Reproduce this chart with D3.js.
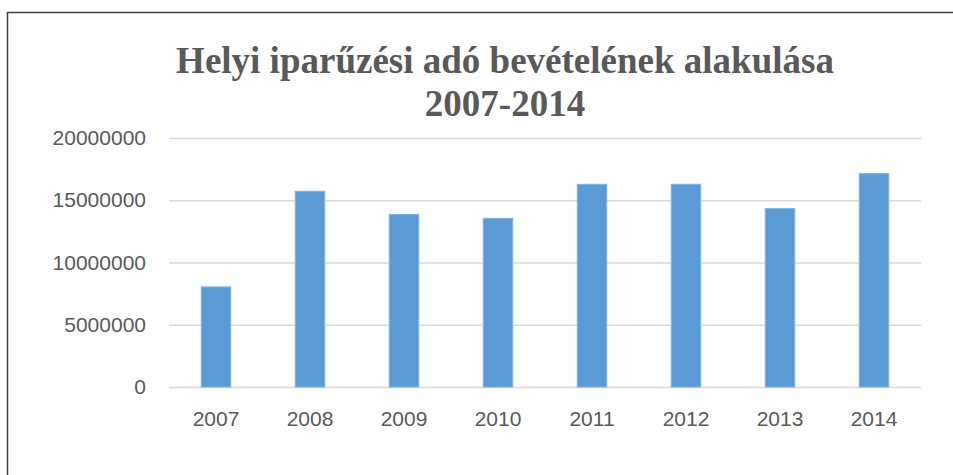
<!DOCTYPE html>
<html lang="hu">
<head>
  <meta charset="UTF-8">
  <title>Helyi iparűzési adó bevételének alakulása</title>
  <script src="https://d3js.org/d3.v7.min.js"></script>
  <style>
    body { margin: 0; padding: 0; background: #fff; }
    svg { display: block; }
    .tick text { font-family: "Liberation Sans", Arial, sans-serif; font-size: 21px; fill: #595959; }
    .title { font-family: "Liberation Serif", "Times New Roman", serif; font-weight: bold; font-size: 37px; fill: #595959; }
  </style>
</head>
<body>
  <svg id="chart" width="953" height="475"></svg>

  <script>
    const years = ["2007", "2008", "2009", "2010", "2011", "2012", "2013", "2014"];
    const revenue = [8040000, 15720000, 13850000, 13550000, 16280000, 16280000, 14330000, 17140000];
    const yTicks = [0, 5000000, 10000000, 15000000, 20000000];
    const titleLines = ["Helyi iparűzési adó bevételének alakulása", "2007-2014"];

    const data = years.map((y, i) => ({ year: y, value: revenue[i] }));

    const svg = d3.select("#chart");

    // chart frame (right and bottom edges fall outside the picture)
    svg.append("rect")
      .attr("x", 7.5).attr("y", 12.5)
      .attr("width", 960).attr("height", 480)
      .attr("fill", "none")
      .attr("stroke", "#404040")
      .attr("stroke-width", 1.5);

    svg.selectAll("text.title")
      .data(titleLines)
      .enter()
      .append("text")
      .attr("class", "title")
      .attr("x", 505)
      .attr("y", (d, i) => 73 + i * 43)
      .attr("text-anchor", "middle")
      .text(d => d);

    const plotLeft = 169, plotRight = 921, plotTop = 138, plotBottom = 387;

    const x = d3.scaleBand()
      .domain(years)
      .range([plotLeft, plotRight])
      .paddingInner(0.686)
      .paddingOuter(0.343);

    const y = d3.scaleLinear()
      .domain([0, 20000000])
      .range([plotBottom, plotTop]);

    // gridlines + y labels
    const yAxis = svg.append("g")
      .attr("transform", `translate(${plotLeft},0)`)
      .call(d3.axisLeft(y).tickValues(yTicks).tickFormat(d3.format("d"))
        .tickSize(-(plotRight - plotLeft)).tickPadding(23));
    yAxis.select(".domain").remove();
    yAxis.selectAll(".tick line").attr("stroke", "#d9d9d9").attr("stroke-width", 1.5);

    svg.append("g")
      .selectAll("rect")
      .data(data)
      .enter()
      .append("rect")
      .attr("x", d => x(d.year))
      .attr("y", d => y(d.value))
      .attr("width", x.bandwidth())
      .attr("height", d => plotBottom - y(d.value))
      .attr("fill", "#5b9bd5")
      .attr("stroke", "#80b2e2")
      .attr("stroke-width", 1);

    const xAxis = svg.append("g")
      .attr("transform", `translate(0,${plotBottom})`)
      .call(d3.axisBottom(x).tickSize(0).tickPadding(24));
    xAxis.select(".domain").remove();
  </script>
</body>
</html>
